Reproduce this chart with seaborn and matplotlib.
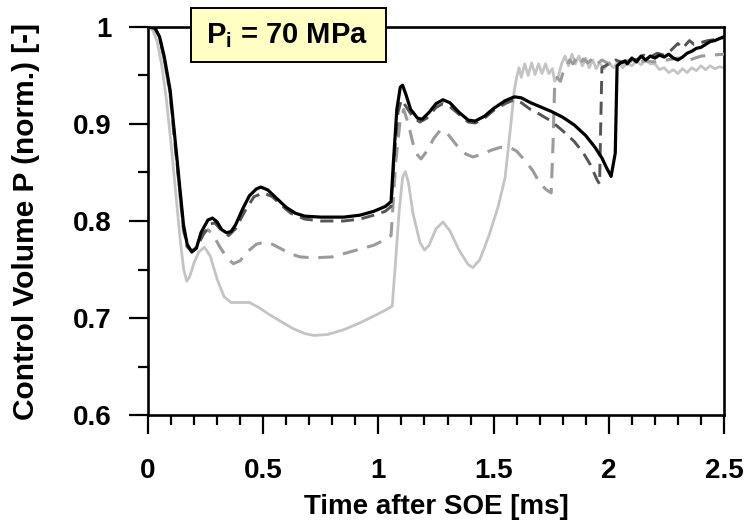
import matplotlib
matplotlib.use("Agg")
import matplotlib.pyplot as plt
import pandas as pd
import seaborn as sns
from matplotlib.ticker import MultipleLocator, FuncFormatter
from matplotlib.patches import Rectangle

# ---------------- data ----------------
t_light = [0.00, 0.02, 0.04, 0.06, 0.08, 0.10, 0.12, 0.14, 0.155, 0.168, 0.18, 0.20, 0.22, 0.245, 0.27,
           0.30, 0.33, 0.36, 0.40, 0.44, 0.48, 0.53, 0.58, 0.63, 0.68, 0.72, 0.78, 0.85, 0.92, 0.98,
           1.03, 1.06, 1.075, 1.09, 1.105, 1.117, 1.13, 1.15, 1.18, 1.20, 1.22, 1.25, 1.28, 1.31, 1.35,
           1.39, 1.41, 1.44, 1.48, 1.52, 1.55, 1.575, 1.59, 1.60, 1.61, 1.62, 1.635, 1.65, 1.665, 1.68,
           1.695, 1.71, 1.725, 1.74, 1.755, 1.765, 1.78, 1.795, 1.81, 1.825, 1.84, 1.855, 1.87, 1.885, 1.90,
           1.915, 1.93, 1.945, 1.96, 1.98, 2.00, 2.02, 2.04, 2.06, 2.08, 2.10, 2.12, 2.14, 2.16, 2.18,
           2.20, 2.22, 2.24, 2.26, 2.28, 2.30, 2.32, 2.34, 2.36, 2.38, 2.40, 2.42, 2.44, 2.46, 2.48, 2.50]
p_light = [1.000, 0.997, 0.985, 0.96, 0.925, 0.88, 0.83, 0.78, 0.75, 0.738, 0.742, 0.757, 0.768, 0.773, 0.764,
           0.74, 0.722, 0.716, 0.716, 0.716, 0.711, 0.703, 0.696, 0.689, 0.684, 0.682, 0.683, 0.688, 0.695, 0.702,
           0.708, 0.712, 0.76, 0.81, 0.845, 0.851, 0.84, 0.808, 0.778, 0.770, 0.775, 0.792, 0.799, 0.790, 0.770,
           0.755, 0.752, 0.760, 0.785, 0.815, 0.845, 0.90, 0.935, 0.948, 0.958, 0.948, 0.962, 0.950, 0.963, 0.951,
           0.962, 0.952, 0.962, 0.952, 0.957, 0.944, 0.948, 0.962, 0.970, 0.960, 0.972, 0.962, 0.970, 0.960, 0.968,
           0.958, 0.966, 0.957, 0.963, 0.957, 0.963, 0.958, 0.964, 0.958, 0.963, 0.960, 0.965, 0.961, 0.966, 0.962,
           0.962, 0.956, 0.958, 0.953, 0.956, 0.952, 0.957, 0.953, 0.958, 0.955, 0.960, 0.956, 0.960, 0.957, 0.959, 0.958]

t_medium = [0.00, 0.03, 0.05, 0.07, 0.096, 0.125, 0.154, 0.17, 0.19, 0.21, 0.24, 0.26, 0.28, 0.31, 0.34,
            0.37, 0.40, 0.43, 0.47, 0.50, 0.54, 0.58, 0.62, 0.66, 0.72, 0.80, 0.86, 0.92, 0.98, 1.03,
            1.055, 1.075, 1.095, 1.11, 1.13, 1.15, 1.17, 1.185, 1.21, 1.24, 1.27, 1.30, 1.34, 1.38, 1.41,
            1.45, 1.49, 1.53, 1.57, 1.60, 1.63, 1.67, 1.70, 1.73, 1.75, 1.758, 1.765, 1.775, 1.79, 1.80,
            1.815, 1.83, 1.845, 1.86, 1.875, 1.89, 1.91, 1.93, 1.95, 1.97, 2.00, 2.03, 2.06, 2.09, 2.12,
            2.15, 2.20, 2.25, 2.30, 2.35, 2.40, 2.45, 2.50]
p_medium = [1.000, 0.998, 0.99, 0.967, 0.93, 0.86, 0.79, 0.773, 0.769, 0.773, 0.787, 0.791, 0.787, 0.774, 0.763,
            0.756, 0.759, 0.768, 0.776, 0.778, 0.776, 0.771, 0.766, 0.763, 0.762, 0.763, 0.767, 0.771, 0.775, 0.781,
            0.785, 0.86, 0.905, 0.915, 0.90, 0.88, 0.868, 0.864, 0.872, 0.885, 0.894, 0.89, 0.878, 0.869, 0.866,
            0.869, 0.873, 0.876, 0.876, 0.872, 0.864, 0.852, 0.839, 0.832, 0.829, 0.88, 0.94, 0.948, 0.944, 0.952,
            0.958, 0.966, 0.962, 0.968, 0.962, 0.967, 0.963, 0.968, 0.962, 0.966, 0.962, 0.967, 0.963, 0.966, 0.962,
            0.965, 0.964, 0.966, 0.968, 0.966, 0.970, 0.971, 0.972]

t_dark = [0.00, 0.03, 0.05, 0.07, 0.096, 0.125, 0.154, 0.17, 0.19, 0.21, 0.24, 0.27, 0.29, 0.32, 0.35,
          0.38, 0.42, 0.46, 0.50, 0.54, 0.58, 0.62, 0.68, 0.75, 0.85, 0.92, 0.98, 1.03, 1.055, 1.07,
          1.085, 1.10, 1.12, 1.15, 1.18, 1.21, 1.25, 1.28, 1.31, 1.35, 1.39, 1.42, 1.46, 1.50, 1.55,
          1.59, 1.62, 1.66, 1.70, 1.75, 1.80, 1.85, 1.89, 1.92, 1.95, 1.96, 1.965, 1.97, 2.00, 2.03,
          2.06, 2.09, 2.12, 2.15, 2.18, 2.21, 2.24, 2.27, 2.30, 2.32, 2.35, 2.37, 2.40, 2.43, 2.46, 2.50]
p_dark = [1.000, 0.999, 0.99, 0.968, 0.932, 0.862, 0.792, 0.774, 0.769, 0.772, 0.786, 0.797, 0.798, 0.790, 0.785,
          0.792, 0.810, 0.825, 0.829, 0.825, 0.816, 0.808, 0.802, 0.800, 0.800, 0.802, 0.806, 0.810, 0.815, 0.87,
          0.912, 0.925, 0.918, 0.907, 0.902, 0.906, 0.917, 0.921, 0.918, 0.910, 0.902, 0.901, 0.906, 0.914, 0.921,
          0.925, 0.922, 0.915, 0.910, 0.903, 0.893, 0.882, 0.870, 0.858, 0.842, 0.838, 0.90, 0.958, 0.962, 0.966,
          0.963, 0.968, 0.966, 0.971, 0.969, 0.973, 0.971, 0.976, 0.983, 0.978, 0.986, 0.982, 0.984, 0.986, 0.987, 0.989]

t_black = [0.00, 0.03, 0.05, 0.07, 0.096, 0.125, 0.154, 0.17, 0.19, 0.21, 0.23, 0.26, 0.28, 0.30, 0.32,
           0.34, 0.36, 0.38, 0.41, 0.44, 0.47, 0.49, 0.52, 0.56, 0.60, 0.64, 0.68, 0.75, 0.85, 0.92,
           0.98, 1.03, 1.055, 1.065, 1.08, 1.095, 1.105, 1.12, 1.14, 1.17, 1.19, 1.22, 1.25, 1.28, 1.31,
           1.35, 1.39, 1.42, 1.46, 1.50, 1.55, 1.59, 1.62, 1.66, 1.70, 1.75, 1.80, 1.85, 1.90, 1.94,
           1.97, 1.99, 2.01, 2.028, 2.036, 2.05, 2.07, 2.08, 2.10, 2.12, 2.14, 2.16, 2.18, 2.20, 2.22,
           2.24, 2.26, 2.28, 2.30, 2.32, 2.34, 2.36, 2.38, 2.40, 2.42, 2.44, 2.46, 2.48, 2.50]
p_black = [1.000, 0.999, 0.99, 0.97, 0.935, 0.866, 0.796, 0.776, 0.768, 0.772, 0.788, 0.801, 0.803, 0.799, 0.791,
           0.788, 0.789, 0.796, 0.812, 0.826, 0.833, 0.835, 0.832, 0.823, 0.814, 0.808, 0.805, 0.804, 0.804, 0.806,
           0.810, 0.815, 0.82, 0.86, 0.915, 0.938, 0.940, 0.930, 0.915, 0.906, 0.905, 0.912, 0.921, 0.925, 0.922,
           0.912, 0.904, 0.903, 0.908, 0.916, 0.924, 0.928, 0.927, 0.922, 0.918, 0.913, 0.907, 0.899, 0.888, 0.876,
           0.865, 0.855, 0.846, 0.87, 0.96, 0.963, 0.965, 0.962, 0.968, 0.964, 0.970, 0.966, 0.970, 0.968, 0.971,
           0.969, 0.972, 0.968, 0.966, 0.969, 0.973, 0.975, 0.978, 0.979, 0.982, 0.985, 0.986, 0.988, 0.990]

x_ticks = [0, 0.5, 1, 1.5, 2, 2.5]
y_ticks = [0.6, 0.7, 0.8, 0.9, 1.0]
x_label = "Time after SOE [ms]"
y_label = "Control Volume P (norm.) [-]"
box_label = r"P$_\mathbf{i}$ = 70 MPa"

# ---------------- style ----------------
sns.set_style("ticks")
plt.rcParams["font.family"] = ["Liberation Sans", "DejaVu Sans"]
plt.rcParams["font.weight"] = "bold"
plt.rcParams["mathtext.fontset"] = "custom"
plt.rcParams["mathtext.bf"] = "Liberation Sans:bold"
plt.rcParams["mathtext.rm"] = "Liberation Sans:bold"
plt.rcParams["text.color"] = "black"
plt.rcParams["axes.labelcolor"] = "black"
plt.rcParams["xtick.color"] = "black"
plt.rcParams["ytick.color"] = "black"
plt.rcParams["xtick.labelcolor"] = "black"
plt.rcParams["ytick.labelcolor"] = "black"

W, H = 750, 528
fig = plt.figure(figsize=(W / 100, H / 100), dpi=100)
ax = fig.add_axes([148 / W, 1 - 415 / H, 576 / W, 388 / H])

series = [
    (t_light, p_light, "#c4c4c4", 2.0, "-", 2),
    (t_medium, p_medium, "#9b9b9b", 2.2, (0, (5.0, 3.2)), 3),
    (t_dark, p_dark, "#555555", 2.1, (0, (4.5, 2.6)), 4),
    (t_black, p_black, "#000000", 2.3, "-", 5),
]
for t, p, col, lw, ls, z in series:
    d = pd.DataFrame({"t": t, "P": p})
    sns.lineplot(data=d, x="t", y="P", color=col, linewidth=lw, linestyle=ls,
                 sort=False, estimator=None, ax=ax, zorder=z)

ax.set_xlim(0, 2.5)
ax.set_ylim(0.6, 1.0)
ax.set_xticks(x_ticks)
ax.set_yticks(y_ticks)
ax.xaxis.set_minor_locator(MultipleLocator(0.1))
ax.yaxis.set_minor_locator(MultipleLocator(0.05))
fmt = FuncFormatter(lambda v, _: f"{v:g}")
ax.xaxis.set_major_formatter(fmt)
ax.yaxis.set_major_formatter(fmt)

for s in ax.spines.values():
    s.set_visible(True)
    s.set_linewidth(1.9)
    s.set_color("black")

ax.tick_params(which="major", direction="out", length=14, width=1.6, color="black",
               labelcolor="black", labelsize=20, top=False, right=False)
ax.tick_params(axis="y", which="major", pad=12)
ax.tick_params(axis="x", which="major", pad=17)
ax.tick_params(which="minor", direction="out", length=7, width=1.6, color="black",
               top=False, right=False)
for lab in ax.get_xticklabels() + ax.get_yticklabels():
    lab.set_fontweight("bold")

ax.set_xlabel(x_label, fontsize=20, fontweight="bold", color="black")
ax.set_ylabel(y_label, fontsize=21.5, fontweight="bold", color="black")
ax.xaxis.set_label_coords(0.5, (415 - 494) / 388)
ax.yaxis.set_label_coords((40 - 148) / 576, 0.5)

# label box overlapping the top spine
rect = Rectangle((191 / W, 1 - 62 / H), 195 / W, 54 / H, transform=fig.transFigure,
                 facecolor="#ffffc4", edgecolor="black", linewidth=1.4, zorder=10)
fig.patches.append(rect)
fig.text(287 / W, 1 - 43.5 / H, box_label, ha="center", va="baseline",
         fontsize=21, fontweight="bold", color="black", zorder=11)

fig.savefig("out.png", dpi=100)
